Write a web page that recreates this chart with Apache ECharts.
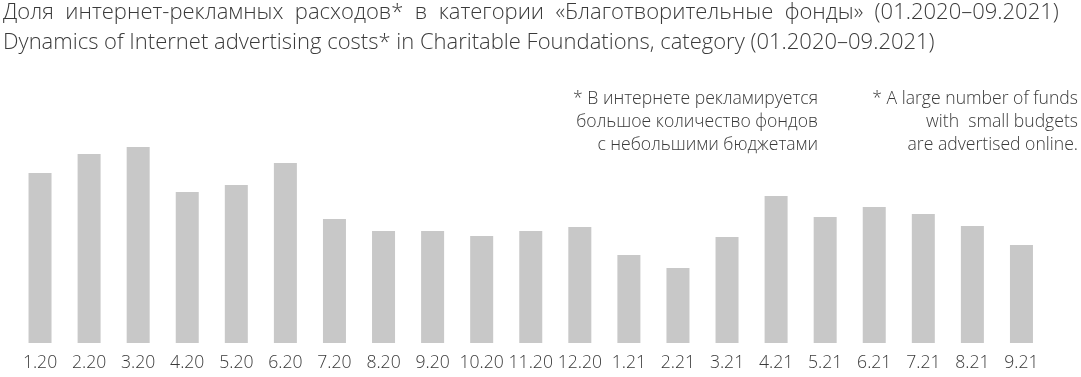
<!DOCTYPE html>
<html>
<head>
<meta charset="utf-8">
<script src="https://cdn.jsdelivr.net/npm/echarts@6/dist/echarts.min.js"></script>
<style>
  html, body { margin: 0; padding: 0; background: #fff; }
  #chart { width: 1081px; height: 377px; }
</style>
</head>
<body>
<div id="chart"></div>
<script>
// Monthly periods (month.year)
const months = ['1.20', '2.20', '3.20', '4.20', '5.20', '6.20', '7.20', '8.20', '9.20', '10.20', '11.20', '12.20',
                '1.21', '2.21', '3.21', '4.21', '5.21', '6.21', '7.21', '8.21', '9.21'];
// Relative share of internet advertising spend per month
const shareValues = [170, 189, 196, 151, 158, 180, 124, 112, 112, 107, 112, 116,
                     88, 75, 106, 147, 126, 136, 129, 117, 98];

const titleRu = 'Доля  интернет-рекламных  расходов*  в  категории  «Благотворительные  фонды»  (01.2020–09.2021)';
const titleEn = 'Dynamics of Internet advertising costs* in Charitable Foundations, category (01.2020–09.2021)';
const noteRu = ['* В интернете рекламируется', 'большое количество фондов', 'с небольшими бюджетами'];
const noteEn = ['* A large number of funds', 'with  small budgets', 'are advertised online.'];

const FONT = '"Open Sans", "DejaVu Sans", sans-serif';
const TEXT_COLOR = '#3a3a3a';

const chart = echarts.init(document.getElementById('chart'), null, { renderer: 'canvas' });

function noteLines(lines, right) {
  return lines.map((line, i) => ({
    type: 'text',
    right: right,
    top: 90 + i * 23,
    style: { text: line, fill: TEXT_COLOR, font: '300 17.6px ' + FONT, textAlign: 'right' }
  }));
}

chart.setOption({
  animation: false,
  grid: { left: 15.5, right: 35, top: 143, bottom: 34, containLabel: false },
  xAxis: {
    type: 'category',
    data: months,
    axisLine: { show: false },
    axisTick: { show: false },
    axisLabel: { color: TEXT_COLOR, fontSize: 17.6, fontFamily: FONT, fontWeight: 300, margin: 11, interval: 0 }
  },
  yAxis: {
    type: 'value',
    min: 0,
    max: 200,
    show: false,
    splitLine: { show: false }
  },
  series: [{
    type: 'bar',
    data: shareValues,
    barWidth: 23,
    itemStyle: { color: '#c8c8c8' }
  }],
  graphic: [
    { type: 'text', left: 3, top: 2, style: { text: titleRu, fill: TEXT_COLOR, font: '300 22px ' + FONT } },
    { type: 'text', left: 3, top: 32, style: { text: titleEn, fill: TEXT_COLOR, font: '300 22px ' + FONT } },
    ...noteLines(noteRu, 263),
    ...noteLines(noteEn, 3)
  ]
});
</script>
</body>
</html>
